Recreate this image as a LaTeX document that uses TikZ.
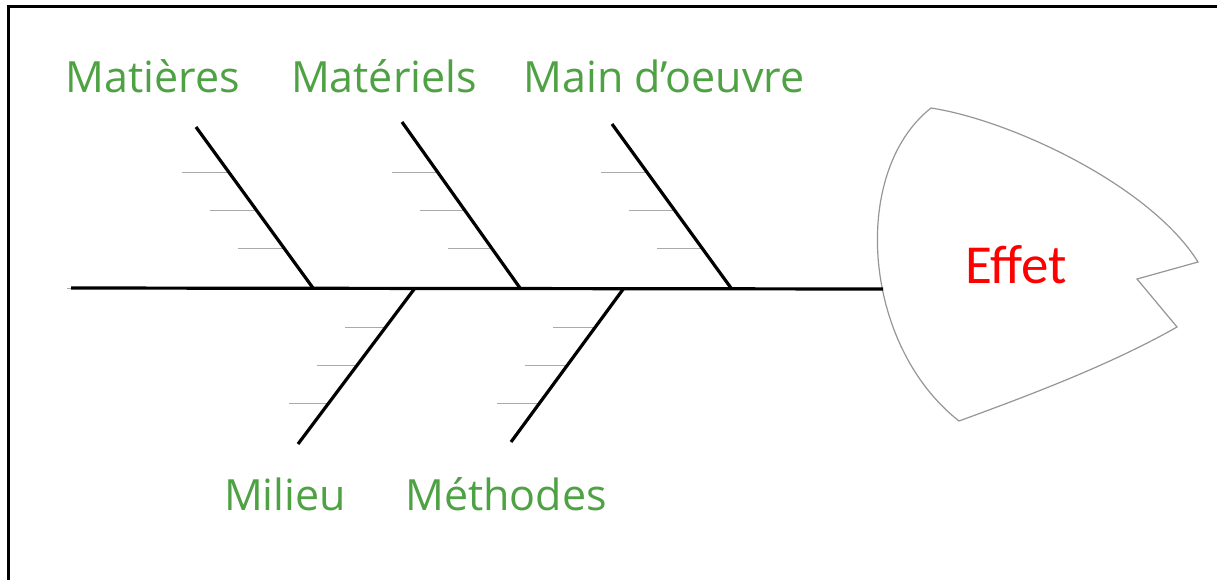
\documentclass[tikz,border=0pt]{standalone}
\usepackage{fontspec}
\setmainfont{Open Sans}
\newfontfamily\headfont{Carlito}
\definecolor{labelgreen}{RGB}{78,162,68}
\definecolor{effectred}{RGB}{255,0,0}
\definecolor{tickgray}{RGB}{170,170,170}
\definecolor{headgray}{RGB}{150,150,150}
\begin{document}
\begin{tikzpicture}[x=1pt,y=-1pt,
  frameline/.style={line width=2.6pt,black},
  spineline/.style={line width=3.2pt,black},
  boneline/.style={line width=3.2pt,black},
  tickline/.style={line width=1pt,tickgray},
  headshape/.style={line width=1.2pt,headgray,fill=white,line join=miter},
  cause/.style={font=\fontsize{43}{50}\selectfont,text=labelgreen,anchor=base,inner sep=0pt},
  effect/.style={font=\headfont\fontsize{55}{64}\selectfont,text=effectred,inner sep=0pt}]
\useasboundingbox (0,0) rectangle (1217,579);
\fill[white] (0,0) rectangle (1217,579);
% outer frame (top and left edges)
\draw[frameline] (8.5,582) -- (8.5,6.5) -- (1220,6.5);

% fish head
\draw[headshape] (931,108) .. controls (1010,120) and (1150,185) .. (1198,262)
  -- (1137,279) -- (1177,327)
  .. controls (1110,365) and (1030,395) .. (959,421)
  .. controls (862,345) and (850,172) .. (931,108) -- cycle;
\node[effect] (effet) at (1016,265) {Effet};

% spine
\coordinate (tail) at (71,288);
\coordinate (head) at (883,289);
\draw[tickline] (67,288) -- (tail);
\coordinate (j1) at (313,288);
\coordinate (j2) at (520,288);
\coordinate (j3) at (731,288);
\coordinate (j4) at (415,288);
\coordinate (j5) at (624,288);
\draw[spineline] (tail) -- (head);

% bone tips
\coordinate (b1) at (196,127);
\coordinate (b2) at (402,122);
\coordinate (b3) at (612,124);
\coordinate (b4) at (298,444);
\coordinate (b5) at (511,442);

% minor cause ticks
\draw[tickline] (182,172) -- (228,172) (210,210) -- (255.6,210) (238,248) -- (282.9,248);
\draw[tickline] (392,172) -- (437.5,172) (420,210) -- (464.6,210) (448,248) -- (491.6,248);
\draw[tickline] (601,172) -- (646.8,172) (629,210) -- (674.4,210) (657,248) -- (702,248);
\draw[tickline] (345,327) -- (385.7,327) (317,365) -- (357.2,365) (289,403) -- (328.7,403);
\draw[tickline] (553,327) -- (595.4,327) (525,365) -- (567.5,365) (497,403) -- (539.6,403);

% main bones
\draw[boneline] (b1) -- (j1);
\draw[boneline] (b2) -- (j2);
\draw[boneline] (b3) -- (j3);
\draw[boneline] (j4) -- (b4);
\draw[boneline] (j5) -- (b5);

% cause labels
\node[cause] (matieres) at (153,92) {Matières};
\node[cause] (materiels) at (384,92) {Matériels};
\node[cause] (main) at (664,92) {Main d’oeuvre};
\node[cause] (milieu) at (285,510) {Milieu};
\node[cause] (methodes) at (506,510) {Méthodes};
\end{tikzpicture}
\end{document}
